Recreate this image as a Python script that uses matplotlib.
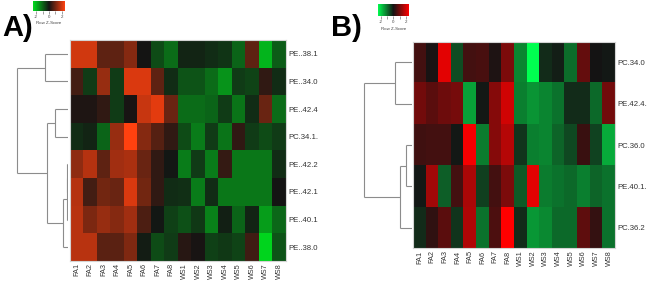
import numpy as np
import matplotlib
matplotlib.use("Agg")
import matplotlib.pyplot as plt
from matplotlib.colors import LinearSegmentedColormap, Normalize
from matplotlib.cm import ScalarMappable

plt.rcParams["font.family"] = ["Liberation Sans", "DejaVu Sans"]

W, H = 669, 281

# Samples (columns)
samples = ["FA1", "FA2", "FA3", "FA4", "FA5", "FA6", "FA7", "FA8",
           "WS1", "WS2", "WS3", "WS4", "WS5", "WS6", "WS7", "WS8"]

# Panel A: row z-scores, rows in dendrogram order (top to bottom)
rows_a = ["PE..38.1", "PE..34.0", "PE..42.4", "PC.34.1.",
          "PE..42.2", "PE..42.1", "PE..40.1", "PE..38.0"]
pe_38_1 = [2.0, 2.0, 0.8, 0.8, 1.2, 0.0, -0.7, -1.1, -0.2, -0.2, -0.3, -0.4, -1.0, 0.8, -2.0, -0.9]
pe_34_0 = [0.5, -0.5, 1.4, -0.5, 2.1, 2.1, 0.8, -0.3, -0.8, -0.8, -1.1, -1.6, -0.5, -0.6, 0.3, -0.3]
pe_42_4 = [0.1, 0.1, 0.3, -0.5, 0.05, 1.9, 2.2, 0.9, -1.1, -1.1, -1.0, -0.5, -1.2, -0.3, 0.9, -1.1]
pc_34_1 = [-0.3, -0.2, -1.0, 1.4, 2.5, 1.2, 0.7, 0.3, -0.7, -1.3, -0.5, -1.2, 0.3, -0.5, -0.7, -0.5]
pe_42_2 = [1.3, 1.7, 0.8, 1.5, 1.6, 0.9, 0.3, -0.05, -1.3, -0.5, -1.3, 0.35, -1.25, -1.25, -1.25, -0.3]
pe_42_1 = [1.7, 0.5, 1.0, 0.9, 2.1, 1.0, 0.3, -0.3, -0.35, -1.3, -0.3, -1.25, -1.25, -1.25, -1.25, 0.0]
pe_40_1 = [1.75, 1.1, 1.4, 1.2, 1.5, 0.6, -0.05, -0.55, -0.75, -0.45, -1.35, -0.15, -1.0, -0.2, -1.7, -1.05]
pe_38_0 = [1.75, 1.75, 0.75, 0.75, 1.15, -0.1, -0.7, -0.5, 0.2, 0.05, -0.55, -0.45, -0.6, 0.45, -2.4, -0.8]

# Panel A tree: (child, child, height); leaves 0..7, new nodes from 8
tree_a = [(0, 1, 22.7), (2, 3, 12.7), (4, 5, 0.8), (10, 6, 1.3),
          (11, 7, 5.3), (9, 12, 20.7), (8, 13, 50.7)]

# Panel B
rows_b = ["PC.34.0", "PE.42.4.", "PC.36.0", "PE.40.1.", "PC.36.2"]
pc_34_0 = [0.5, 0.05, 2.2, -0.6, 0.5, 0.55, 0.1, 1.1, -1.2, -2.5, -0.25, -0.1, -0.95, 0.85, 0.0, -0.05]
pe_42_4b = [1.0, 0.75, 0.95, 1.05, -1.5, -0.05, 1.2, 2.0, -1.15, -1.35, -1.2, -1.0, -0.25, -0.25, -0.9, 1.0]
pc_36_0 = [0.45, 0.5, 0.5, -0.05, 2.4, -1.1, 1.2, 1.7, -0.35, -1.15, -1.2, -0.85, -0.55, 0.4, -0.5, -1.6]
pe_40_1b = [-0.05, 1.5, -0.8, 0.5, 1.6, -0.45, 0.5, 1.1, -0.75, 2.2, -1.1, -1.0, -0.9, -1.15, -0.85, -1.0]
pc_36_2 = [-0.25, 0.3, 0.75, -0.35, 1.65, -1.0, 0.6, 2.5, -0.25, -1.4, -1.25, -0.9, -0.9, 0.8, 0.35, -1.0]

tree_b = [(0, 1, 17.3), (2, 3, 6.3), (6, 4, 12.0), (5, 7, 48.3)]

cmap_a = LinearSegmentedColormap.from_list("ga", ["#00dc1e", "#141414", "#ff410f"])
cmap_b = LinearSegmentedColormap.from_list("gb", ["#00ff50", "#141414", "#ff0000"])
norm = Normalize(-2.5, 2.5)

fig = plt.figure(figsize=(W / 100, H / 100), dpi=100)


def px_axes(x0, y0, x1, y1):
    return fig.add_axes([x0 / W, 1 - y1 / H, (x1 - x0) / W, (y1 - y0) / H])


def draw_tree(ax, tree, n):
    pos = {i: (float(i), 0.0) for i in range(n)}
    for k, (a, b, h) in enumerate(tree):
        ya, ha = pos[a]
        yb, hb = pos[b]
        ax.plot([ha, h], [ya, ya], color="#8c8c8c", lw=0.8, solid_capstyle="butt")
        ax.plot([hb, h], [yb, yb], color="#8c8c8c", lw=0.8, solid_capstyle="butt")
        ax.plot([h, h], [ya, yb], color="#8c8c8c", lw=0.8, solid_capstyle="butt")
        pos[n + k] = ((ya + yb) / 2, h)


def panel(data, rows, tree, cmap, heat_box, dendro_box, key_box, letter, letter_xy):
    n = len(rows)
    ax = px_axes(*heat_box)
    ax.imshow(np.array(data), cmap=cmap, norm=norm, aspect="auto", interpolation="nearest")
    ax.set_xticks(range(len(samples)))
    ax.set_xticklabels(samples, rotation=90, fontsize=5.2, color="#333333")
    ax.set_yticks(range(n))
    ax.set_yticklabels(rows, fontsize=5.6, color="#333333")
    ax.yaxis.tick_right()
    ax.tick_params(length=0, pad=1.5)
    for s in ax.spines.values():
        s.set_color("#d4d4d4")
        s.set_linewidth(0.8)

    ad = px_axes(*dendro_box)
    draw_tree(ad, tree, n)
    ad.set_xlim(dendro_box[2] - dendro_box[0], 0)
    ad.set_ylim(n - 0.5, -0.5)
    ad.axis("off")

    ak = px_axes(*key_box)
    cb = fig.colorbar(ScalarMappable(norm=norm, cmap=cmap), cax=ak, orientation="horizontal")
    cb.outline.set_visible(False)
    cb.set_ticks([-2, -1, 0, 1, 2])
    cb.set_ticklabels(["-2", "", "0", "", "2"])
    ak.tick_params(length=2.2, width=0.4, labelsize=3.2, pad=1, color="#555555", labelcolor="#444444")
    ak.set_xlabel("Row Z-Score", fontsize=3.2, labelpad=1.5, color="#444444")

    fig.text(letter_xy[0] / W, 1 - letter_xy[1] / H, letter, fontsize=21,
             fontweight="bold", ha="left", va="baseline")


panel([pe_38_1, pe_34_0, pe_42_4, pc_34_1, pe_42_2, pe_42_1, pe_40_1, pe_38_0],
      rows_a, tree_a, cmap_a,
      (70, 40, 286, 261), (0, 40, 68, 261), (33, 0.7, 65, 10.5), "A)", (2, 36))

panel([pc_34_0, pe_42_4b, pc_36_0, pe_40_1b, pc_36_2],
      rows_b, tree_b, cmap_b,
      (413.3, 41.7, 615.3, 248.3), (340, 41.7, 412.3, 248.3), (377.7, 4, 409, 16), "B)", (331, 36))

fig.savefig("out.png", dpi=100)
